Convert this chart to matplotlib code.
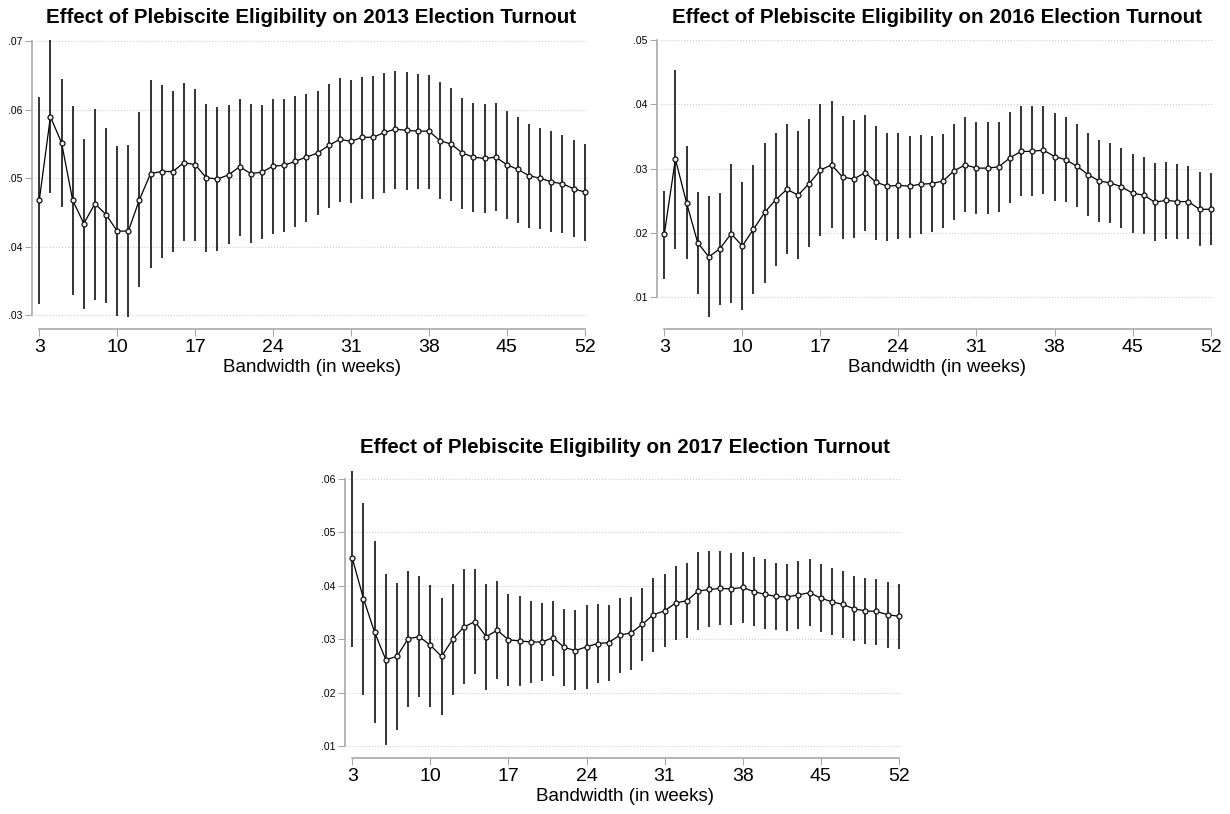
import matplotlib
matplotlib.use("Agg")
import matplotlib.pyplot as plt

plt.rcParams['font.family'] = ['Liberation Sans', 'DejaVu Sans']

weeks = list(range(3, 53))
xticks = [3, 10, 17, 24, 31, 38, 45, 52]

# 2013 turnout: point estimate and 95% CI
est_2013 = [0.0468, 0.0590, 0.0552, 0.0468, 0.0434, 0.0463, 0.0447, 0.0423, 0.0423, 0.0469,
            0.0507, 0.0510, 0.0510, 0.0523, 0.0520, 0.0501, 0.0499, 0.0505, 0.0517, 0.0507,
            0.0509, 0.0518, 0.0519, 0.0525, 0.0531, 0.0537, 0.0548, 0.0557, 0.0554, 0.0560,
            0.0560, 0.0567, 0.0572, 0.0570, 0.0569, 0.0569, 0.0555, 0.0550, 0.0537, 0.0531,
            0.0529, 0.0531, 0.0520, 0.0513, 0.0504, 0.0500, 0.0495, 0.0492, 0.0485, 0.0480]
hi_2013 = [0.0619, 0.0702, 0.0645, 0.0605, 0.0557, 0.0602, 0.0574, 0.0547, 0.0548, 0.0597,
           0.0644, 0.0636, 0.0627, 0.0639, 0.0630, 0.0608, 0.0604, 0.0607, 0.0616, 0.0609,
           0.0607, 0.0616, 0.0616, 0.0620, 0.0623, 0.0628, 0.0638, 0.0647, 0.0644, 0.0648,
           0.0650, 0.0654, 0.0657, 0.0656, 0.0653, 0.0651, 0.0640, 0.0632, 0.0618, 0.0610,
           0.0608, 0.0610, 0.0598, 0.0589, 0.0579, 0.0574, 0.0569, 0.0564, 0.0556, 0.0550]
lo_2013 = [0.0316, 0.0478, 0.0458, 0.0330, 0.0309, 0.0323, 0.0318, 0.0299, 0.0297, 0.0341,
           0.0369, 0.0384, 0.0393, 0.0408, 0.0409, 0.0393, 0.0394, 0.0404, 0.0416, 0.0406,
           0.0411, 0.0418, 0.0421, 0.0429, 0.0436, 0.0446, 0.0457, 0.0465, 0.0464, 0.0470,
           0.0470, 0.0478, 0.0484, 0.0483, 0.0484, 0.0484, 0.0470, 0.0467, 0.0455, 0.0451,
           0.0450, 0.0452, 0.0441, 0.0435, 0.0428, 0.0426, 0.0422, 0.0420, 0.0414, 0.0409]

# 2016 turnout
est_2016 = [0.0198, 0.0315, 0.0247, 0.0185, 0.0163, 0.0176, 0.0199, 0.0180, 0.0206, 0.0232,
            0.0252, 0.0268, 0.0259, 0.0277, 0.0298, 0.0306, 0.0287, 0.0284, 0.0294, 0.0279,
            0.0273, 0.0274, 0.0273, 0.0276, 0.0277, 0.0281, 0.0297, 0.0306, 0.0301, 0.0301,
            0.0303, 0.0317, 0.0327, 0.0327, 0.0329, 0.0319, 0.0314, 0.0304, 0.0291, 0.0281,
            0.0278, 0.0272, 0.0262, 0.0259, 0.0248, 0.0251, 0.0249, 0.0249, 0.0237, 0.0237]
hi_2016 = [0.0266, 0.0453, 0.0335, 0.0264, 0.0258, 0.0263, 0.0308, 0.0280, 0.0306, 0.0340,
           0.0355, 0.0369, 0.0359, 0.0378, 0.0400, 0.0406, 0.0382, 0.0375, 0.0383, 0.0367,
           0.0356, 0.0356, 0.0351, 0.0352, 0.0351, 0.0354, 0.0370, 0.0380, 0.0372, 0.0372,
           0.0373, 0.0388, 0.0397, 0.0397, 0.0397, 0.0386, 0.0380, 0.0369, 0.0356, 0.0345,
           0.0340, 0.0333, 0.0323, 0.0319, 0.0309, 0.0310, 0.0307, 0.0305, 0.0295, 0.0294]
lo_2016 = [0.0129, 0.0176, 0.0159, 0.0105, 0.0069, 0.0088, 0.0091, 0.0081, 0.0106, 0.0123,
           0.0149, 0.0167, 0.0159, 0.0178, 0.0196, 0.0208, 0.0191, 0.0192, 0.0204, 0.0190,
           0.0188, 0.0191, 0.0192, 0.0199, 0.0202, 0.0208, 0.0221, 0.0232, 0.0229, 0.0230,
           0.0233, 0.0246, 0.0257, 0.0258, 0.0261, 0.0250, 0.0248, 0.0240, 0.0227, 0.0217,
           0.0215, 0.0208, 0.0200, 0.0198, 0.0188, 0.0191, 0.0191, 0.0191, 0.0180, 0.0181]

# 2017 turnout
est_2017 = [0.0451, 0.0376, 0.0313, 0.0262, 0.0268, 0.0301, 0.0305, 0.0289, 0.0268, 0.0300,
            0.0323, 0.0333, 0.0305, 0.0317, 0.0299, 0.0297, 0.0295, 0.0295, 0.0303, 0.0285,
            0.0279, 0.0286, 0.0292, 0.0294, 0.0308, 0.0312, 0.0328, 0.0346, 0.0353, 0.0368,
            0.0372, 0.0390, 0.0393, 0.0395, 0.0394, 0.0397, 0.0389, 0.0384, 0.0380, 0.0379,
            0.0383, 0.0387, 0.0377, 0.0370, 0.0365, 0.0357, 0.0353, 0.0352, 0.0346, 0.0343]
hi_2017 = [0.0615, 0.0555, 0.0484, 0.0421, 0.0406, 0.0428, 0.0418, 0.0402, 0.0377, 0.0403,
           0.0431, 0.0432, 0.0404, 0.0408, 0.0385, 0.0380, 0.0372, 0.0367, 0.0372, 0.0357,
           0.0354, 0.0364, 0.0365, 0.0364, 0.0378, 0.0379, 0.0396, 0.0415, 0.0421, 0.0436,
           0.0443, 0.0463, 0.0464, 0.0465, 0.0462, 0.0463, 0.0454, 0.0449, 0.0443, 0.0441,
           0.0446, 0.0450, 0.0441, 0.0433, 0.0427, 0.0419, 0.0415, 0.0413, 0.0407, 0.0403]
lo_2017 = [0.0285, 0.0196, 0.0144, 0.0103, 0.0131, 0.0174, 0.0192, 0.0174, 0.0159, 0.0196,
           0.0216, 0.0235, 0.0205, 0.0226, 0.0213, 0.0213, 0.0218, 0.0222, 0.0232, 0.0212,
           0.0205, 0.0208, 0.0218, 0.0223, 0.0237, 0.0243, 0.0259, 0.0276, 0.0285, 0.0299,
           0.0302, 0.0317, 0.0323, 0.0326, 0.0327, 0.0330, 0.0324, 0.0320, 0.0318, 0.0315,
           0.0320, 0.0325, 0.0314, 0.0308, 0.0303, 0.0296, 0.0292, 0.0290, 0.0284, 0.0282]

yticks_2013 = [0.03, 0.04, 0.05, 0.06, 0.07]
ylabels_2013 = ['.03', '.04', '.05', '.06', '.07']
yticks_2016 = [0.01, 0.02, 0.03, 0.04, 0.05]
ylabels_2016 = ['.01', '.02', '.03', '.04', '.05']
yticks_2017 = [0.01, 0.02, 0.03, 0.04, 0.05, 0.06]
ylabels_2017 = ['.01', '.02', '.03', '.04', '.05', '.06']

fig = plt.figure(figsize=(12.3, 8.14), dpi=100)
ax1 = fig.add_axes([0.0285, 0.6093, 0.4496, 0.3415])
ax2 = fig.add_axes([0.5366, 0.6093, 0.4504, 0.3415])
ax3 = fig.add_axes([0.2830, 0.0823, 0.4504, 0.3403])


def draw(ax, est, lo, hi, yticks, ylabels, ylim, title):
    ax.vlines(weeks, lo, hi, color='#111111', lw=1.2, zorder=2)
    ax.plot(weeks, est, color='black', lw=0.9, marker='o', ms=3.6,
            mfc='#eeeeee', mec='#111111', mew=0.9, zorder=3)
    ax.set_xlim(2.62, 52.3)
    ax.set_ylim(*ylim)
    ax.set_xticks(xticks)
    ax.set_yticks(yticks)
    ax.set_yticklabels(ylabels)
    ax.grid(axis='y', linestyle=':', color='#cccccc', lw=0.8)
    ax.set_axisbelow(True)
    for s in ['top', 'right']:
        ax.spines[s].set_visible(False)
    ax.spines['left'].set_position(('outward', 2))
    ax.spines['bottom'].set_position(('outward', 8))
    ax.spines['left'].set_bounds(yticks[0], yticks[-1])
    ax.spines['bottom'].set_bounds(3, 52)
    for s in ['left', 'bottom']:
        ax.spines[s].set_color('#a8a8a8')
        ax.spines[s].set_linewidth(1.2)
    ax.tick_params(axis='y', length=5, color='#a8a8a8', labelsize=7.5, pad=2)
    ax.tick_params(axis='x', length=5, color='#a8a8a8', labelsize=14, pad=2)
    ax.set_xlabel('Bandwidth (in weeks)', fontsize=13.5, labelpad=2)
    ax.set_title(title, fontsize=14.8, fontweight='bold', pad=12)


draw(ax1, est_2013, lo_2013, hi_2013, yticks_2013, ylabels_2013, (0.0296, 0.0702),
     'Effect of Plebiscite Eligibility on 2013 Election Turnout')
draw(ax2, est_2016, lo_2016, hi_2016, yticks_2016, ylabels_2016, (0.0068, 0.0500),
     'Effect of Plebiscite Eligibility on 2016 Election Turnout')
draw(ax3, est_2017, lo_2017, hi_2017, yticks_2017, ylabels_2017, (0.0099, 0.0616),
     'Effect of Plebiscite Eligibility on 2017 Election Turnout')

fig.savefig('out.png', dpi=100)
